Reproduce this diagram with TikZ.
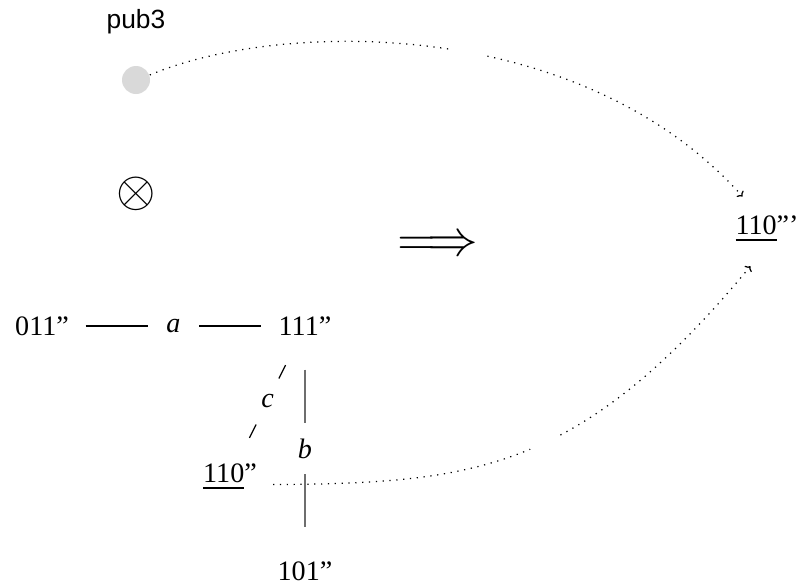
\documentclass[tikz,border=0pt]{standalone}
\usepackage{fontspec}
\setmainfont{Liberation Serif}
\setsansfont{Liberation Sans}
\usetikzlibrary{arrows.meta}
\definecolor{pub-gray}{RGB}{217,217,217}
\definecolor{edge-gray}{RGB}{110,110,110}

\begin{document}
\begin{tikzpicture}[
    %% lattice vertex (invisible circle keeps edges clear of the text)
    vert/.style  = {circle, inner sep=0pt, minimum size=0.86cm,
                    font=\fontsize{8}{9}\selectfont},
    %% edge label
    elbl/.style  = {circle, inner sep=0pt, minimum size=0.5cm,
                    font=\fontsize{8}{9}\selectfont\itshape},
    %% break in a dotted arc
    gap/.style   = {circle, inner sep=0pt, minimum size=0.32cm, fill=white},
    %% large operator symbols
    big/.style   = {inner sep=0pt, font=\fontsize{14}{16}\selectfont},
    ledge/.style = {line width=0.35pt},
    gedge/.style = {line width=0.7pt, color=edge-gray},
    arc/.style   = {line width=0.35pt, dash pattern=on 0.35pt off 1.6pt,
                    -{To[length=1.2pt,width=2.6pt]}},
]
\useasboundingbox (0,0) rectangle (8.09,-5.86);

%% ---- publisher ----
\node[anchor=base, font=\sffamily\fontsize{7.5}{9}\selectfont] (publbl) at (1.36,-0.28) {pub3};
\node[circle, fill=pub-gray, minimum size=0.28cm, inner sep=0pt] (pub) at (1.36,-0.80) {};

%% ---- operators ----
\node[big] (otimes)  at (1.36,-1.935) {$\otimes$};
\node[big] (implies) at (4.375,-2.465) {$\Longrightarrow$};

%% ---- lattice ----
\node[vert] (v011) at (0.42,-3.26) {011''};
\node[vert] (v111) at (3.05,-3.26) {111''};
\node[vert] (v110) at (2.30,-4.77) {\underline{110}''};
\node[vert] (v101) at (3.05,-5.71) {101''};

\node[elbl] (la) at (1.735,-3.26)  {a};
\node[elbl] (lc) at (2.675,-4.015) {c};
\node[elbl] (lb) at (3.05,-4.485)  {b};

\draw[ledge] (v011) -- (la);
\draw[ledge] (la)   -- (v111);
\draw[ledge] (v111) -- (lc);
\draw[ledge] (lc)   -- (v110);
\draw[gedge] (v111) -- (lb);
\draw[gedge] (lb)   -- (v101);

%% ---- result ----
\node[vert, minimum size=0.8cm] (v110r) at (7.67,-2.29) {\underline{110}'''};

\draw[arc] (pub.20) .. controls (2.80,-0.20) and (5.80,-0.15) .. node[gap, pos=0.55] {} (v110r.127);
\draw[arc] (v110.-10) .. controls (4.74,-4.83) and (5.80,-4.72) .. node[gap, pos=0.55] {} (v110r.246);

\end{tikzpicture}
\end{document}
